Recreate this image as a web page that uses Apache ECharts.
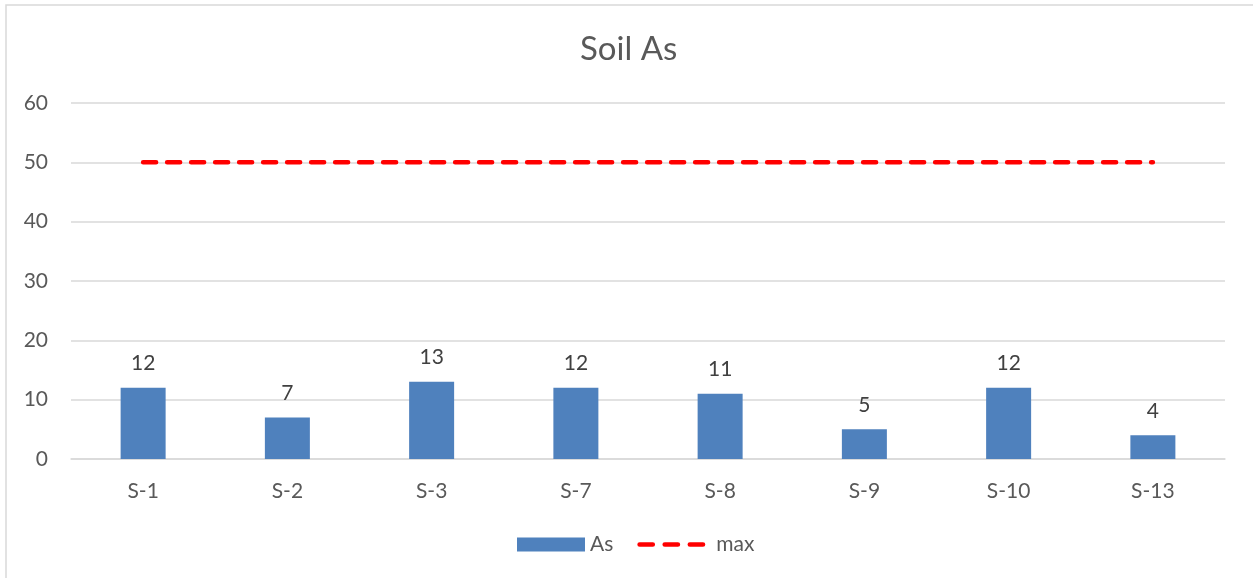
<!DOCTYPE html>
<html>
<head>
<meta charset="utf-8">
<script src="https://cdn.jsdelivr.net/npm/echarts@6/dist/echarts.min.js"></script>
<style>
html,body{margin:0;padding:0;background:#fff;}
#chart{width:1253px;height:578px;}
</style>
</head>
<body>
<div id="chart"></div>
<script>
const categories = ['S-1','S-2','S-3','S-7','S-8','S-9','S-10','S-13'];
const asValues = [12, 7, 13, 12, 11, 5, 12, 4];
const maxValues = [50, 50, 50, 50, 50, 50, 50, 50];
const yTicks = {min: 0, max: 60, interval: 10};

const FONT = 'Lato';
const dashIcon = 'path://M2.25,0 h12.5 a2.25,2.25 0 0 1 0,4.5 h-12.5 a2.25,2.25 0 0 1 0,-4.5 Z ' +
  'M26.25,0 h12.5 a2.25,2.25 0 0 1 0,4.5 h-12.5 a2.25,2.25 0 0 1 0,-4.5 Z ' +
  'M50.25,0 h12.5 a2.25,2.25 0 0 1 0,4.5 h-12.5 a2.25,2.25 0 0 1 0,-4.5 Z';
const chart = echarts.init(document.getElementById('chart'), null, {renderer: 'canvas'});
chart.setOption({
  animation: false,
  backgroundColor: '#fff',
  graphic: [{
    type: 'rect',
    shape: {x: 6, y: 5, width: 1400, height: 800},
    style: {fill: 'none', stroke: '#D9D9D9', lineWidth: 1.5},
    silent: true
  }],
  title: {
    text: 'Soil As',
    left: 575,
    top: 28,
    textStyle: {fontFamily: FONT, fontSize: 33, fontWeight: 'normal', color: '#595959'}
  },
  legend: {
    left: 512,
    top: 529,
    itemWidth: 68,
    itemHeight: 14,
    itemGap: 24,
    symbolKeepAspect: true,
    textStyle: {fontFamily: FONT, fontSize: 21, color: '#595959'},
    data: [
      {name: 'As', icon: 'rect'},
      {name: 'max', icon: dashIcon, itemStyle: {color: '#FF0000'},
       textStyle: {fontFamily: FONT, fontSize: 21, color: '#595959', padding: [0, 0, 0, 6]}}
    ]
  },
  grid: {left: 71, right: 28, top: 103, bottom: 119, containLabel: false},
  xAxis: {
    type: 'category',
    data: categories,
    boundaryGap: true,
    axisLine: {show: true, lineStyle: {color: '#D9D9D9', width: 1.5}},
    axisTick: {show: false},
    axisLabel: {fontFamily: FONT, fontSize: 21, color: '#595959', margin: 22}
  },
  yAxis: {
    type: 'value',
    min: yTicks.min,
    max: yTicks.max,
    interval: yTicks.interval,
    axisLine: {show: false},
    axisTick: {show: false},
    splitLine: {lineStyle: {color: '#D9D9D9', width: 1.5}},
    axisLabel: {fontFamily: FONT, fontSize: 21, color: '#595959', margin: 23}
  },
  series: [
    {
      name: 'As',
      type: 'bar',
      data: asValues,
      barWidth: 45,
      itemStyle: {color: '#4F81BD'},
      label: {
        show: true,
        position: 'top',
        distance: 14,
        fontFamily: FONT,
        fontSize: 21,
        color: '#404040'
      }
    },
    {
      name: 'max',
      type: 'line',
      data: maxValues,
      symbol: 'none',
      lineStyle: {color: '#FF0000', width: 4.5, type: [13, 11], cap: 'round'},
      itemStyle: {color: '#FF0000'}
    }
  ]
});
</script>
</body>
</html>
